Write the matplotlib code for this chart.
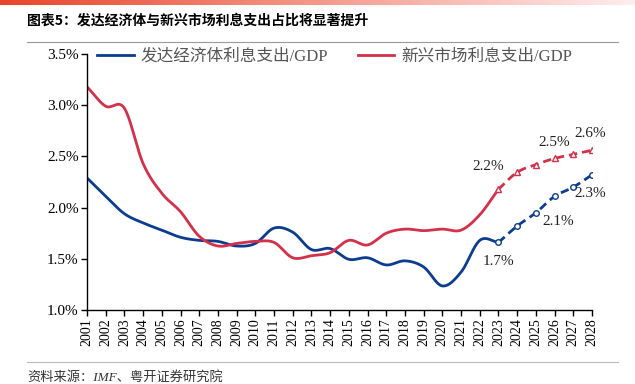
import matplotlib.pyplot as plt
import numpy as np

plt.rcParams['font.family'] = ['Liberation Serif', 'Noto Sans CJK SC']

# 数据
years = list(range(2001, 2024))
dev = [2.29, 2.11, 1.94, 1.85, 1.78, 1.71, 1.68, 1.67, 1.625, 1.65, 1.80, 1.76,
       1.59, 1.60, 1.495, 1.51, 1.44, 1.48, 1.42, 1.235, 1.37, 1.68, 1.66]
emg = [3.18, 2.99, 2.97, 2.43, 2.14, 1.96, 1.72, 1.625, 1.65, 1.67, 1.66, 1.51,
       1.53, 1.56, 1.68, 1.635, 1.75, 1.79, 1.775, 1.79, 1.78, 1.93, 2.18]
f_years = list(range(2023, 2029))
dev_f = [1.66, 1.82, 1.95, 2.11, 2.20, 2.32]
emg_f = [2.18, 2.345, 2.42, 2.48, 2.52, 2.56]

yticks = [1.0, 1.5, 2.0, 2.5, 3.0, 3.5]
labels = [(2023.0, 1.47, '1.7%'), (2022.45, 2.40, '2.2%'), (2026.2, 1.86, '2.1%'),
          (2027.9, 2.14, '2.3%'), (2026.0, 2.64, '2.5%'), (2027.9, 2.72, '2.6%')]

blue = '#0b3c8f'
red = '#d4304a'


def smooth(x, y, n=20):
    # Catmull-Rom 平滑 (类似 Excel 平滑线)
    x = np.asarray(x, float)
    y = np.asarray(y, float)
    px = np.concatenate([[2 * x[0] - x[1]], x, [2 * x[-1] - x[-2]]])
    py = np.concatenate([[2 * y[0] - y[1]], y, [2 * y[-1] - y[-2]]])
    xs, ys = [], []
    t = np.linspace(0, 1, n, endpoint=False)
    for i in range(1, len(px) - 2):
        for arr, out in ((px, xs), (py, ys)):
            p0, p1, p2, p3 = arr[i - 1], arr[i], arr[i + 1], arr[i + 2]
            out.extend(0.5 * ((2 * p1) + (-p0 + p2) * t
                              + (2 * p0 - 5 * p1 + 4 * p2 - p3) * t ** 2
                              + (-p0 + 3 * p1 - 3 * p2 + p3) * t ** 3))
    xs.append(x[-1])
    ys.append(y[-1])
    return xs, ys


fig = plt.figure(figsize=(6.35, 3.84), dpi=100)

# 顶部渐变条
bar = fig.add_axes([0, 1 - 5 / 384, 1, 5 / 384])
grad = np.linspace(0, 1, 256)
cols = np.array([[0.91, 0.27, 0.16]]) * (1 - grad[:, None]) + np.array([[1.0, 0.93, 0.93]]) * grad[:, None]
bar.imshow(cols[None, :, :], aspect='auto')
bar.axis('off')

fig.text(27 / 635, 1 - 21 / 384, '图表5：发达经济体与新兴市场利息支出占比将显著提升',
         family=['Noto Sans CJK SC'], fontweight='bold', fontsize=10, va='center', ha='left')
fig.add_artist(plt.Line2D([27 / 635, 618 / 635], [1 - 42 / 384] * 2, color='#999999', lw=0.8))
fig.add_artist(plt.Line2D([27 / 635, 618 / 635], [1 - 362 / 384] * 2, color='#bbbbbb', lw=0.8))
fig.text(27 / 635, 1 - 377 / 384, '资料来源：IMF、粤开证券研究院', fontsize=9.5,
         color='#333333', va='center', ha='left', style='italic')

ax = fig.add_axes([87 / 635, 74 / 384, (592 - 87) / 635, (310 - 54) / 384])

sx, sy = smooth(years, dev)
ax.plot(sx, sy, color=blue, lw=2, label='发达经济体利息支出/GDP')
sx, sy = smooth(years, emg)
ax.plot(sx, sy, color=red, lw=2, label='新兴市场利息支出/GDP')

sx, sy = smooth(f_years, dev_f)
ax.plot(sx, sy, color=blue, lw=2, ls=(0, (3, 1.8)))
ax.plot(f_years, dev_f, ls='none', marker='o', ms=4, mfc='white', mec=blue, mew=1)
sx, sy = smooth(f_years, emg_f)
ax.plot(sx, sy, color=red, lw=2, ls=(0, (3, 1.8)))
ax.plot(f_years, emg_f, ls='none', marker='^', ms=4.5, mfc='white', mec=red, mew=1)

for x, y, s in labels:
    ax.text(x, y, s, fontsize=11, ha='center', va='center', color='#222222', clip_on=False)

ax.set_xlim(2001, 2028)
ax.set_ylim(1.0, 3.5)
ax.set_yticks(yticks)
ax.set_yticklabels(['%.1f%%' % v for v in yticks], fontsize=11)
ax.set_xticks(range(2001, 2029))
ax.set_xticklabels([str(y) for y in range(2001, 2029)], rotation=90, fontsize=10)
ax.tick_params(axis='both', length=4, width=1, color='black', pad=2)
for s in ['top', 'right']:
    ax.spines[s].set_visible(False)
for s in ['left', 'bottom']:
    ax.spines[s].set_linewidth(1)

leg = ax.legend(loc='upper left', bbox_to_anchor=(-0.01, 1.08), ncol=2, frameon=False,
                fontsize=12, handlelength=2.2, handletextpad=0.4, columnspacing=1.8)
for t in leg.get_texts():
    t.set_color('#555555')

fig.savefig('out.png', dpi=100)
